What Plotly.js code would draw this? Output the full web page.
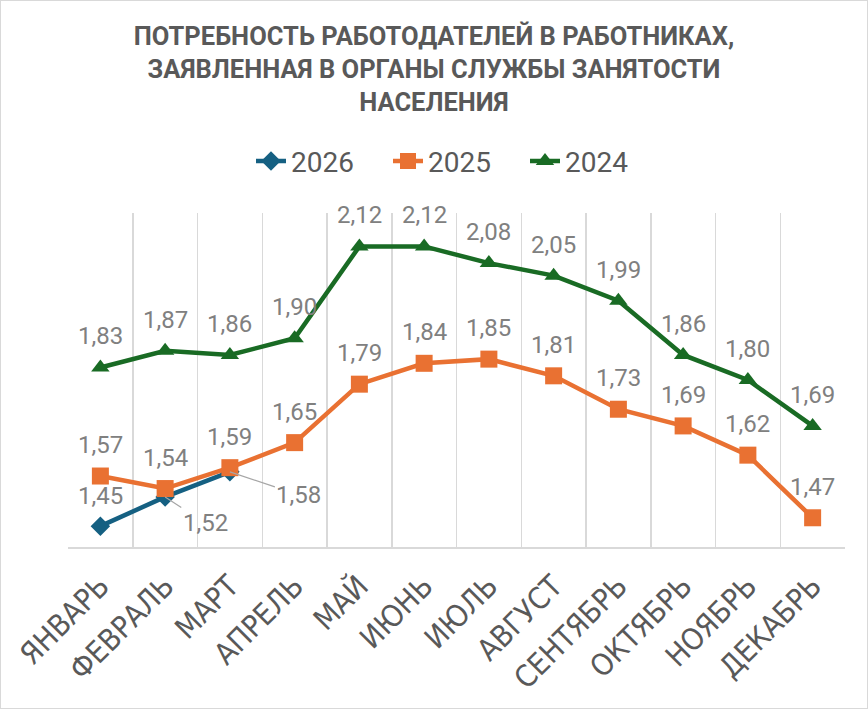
<!DOCTYPE html>
<html>
<head>
<meta charset="utf-8">
<script src="https://cdn.plot.ly/plotly-3.0.1.min.js"></script>
<style>
  body { margin: 0; background: #fff; }
  #chart { width: 868px; height: 709px; }
  #frame { position: absolute; left: 0; top: 0; width: 866px; height: 707px;
           border: 1px solid #d9d9d9; pointer-events: none; }
</style>
</head>
<body>
<div id="chart"></div>
<div id="frame"></div>
<script>
// Months (x axis categories)
const months = ['ЯНВАРЬ', 'ФЕВРАЛЬ', 'МАРТ', 'АПРЕЛЬ', 'МАЙ', 'ИЮНЬ',
                'ИЮЛЬ', 'АВГУСТ', 'СЕНТЯБРЬ', 'ОКТЯБРЬ', 'НОЯБРЬ', 'ДЕКАБРЬ'];

// Series values
const y2026 = [1.45, 1.52, 1.58];
const y2025 = [1.57, 1.54, 1.59, 1.65, 1.79, 1.84, 1.85, 1.81, 1.73, 1.69, 1.62, 1.47];
const y2024 = [1.83, 1.87, 1.86, 1.90, 2.12, 2.12, 2.08, 2.05, 1.99, 1.86, 1.80, 1.69];

const narrow = '"DejaVu Sans Condensed", Roboto, sans-serif';
const labelFont = { family: 'Roboto, Arial, sans-serif', size: 24, color: '#808080' };

function fmt(v) {
    return v.toFixed(2).replace('.', ',');
}

function makeTrace(name, values, color, symbol, size, rank) {
    return {
        x: months.slice(0, values.length),
        y: values,
        name: name,
        type: 'scatter',
        mode: 'lines+markers',
        line: { color: color, width: 4.5 },
        marker: { color: color, symbol: symbol, size: size },
        legendrank: rank,
        hoverinfo: 'x+y'
    };
}

const traces = [
    makeTrace('2026', y2026, '#156082', 'diamond', 15, 1),
    makeTrace('2025', y2025, '#E97132', 'square', 17, 2),
    makeTrace('2024', y2024, '#196B24', 'triangle-up', 16, 3)
];

// Data labels: above the points, 2026 Feb/Mar moved aside with leader lines
const annotations = [];
[y2024, y2025].forEach(function(values) {
    values.forEach(function(v, i) {
        annotations.push({
            x: months[i], y: v, text: fmt(v), showarrow: false,
            yshift: 31, font: labelFont
        });
    });
});
y2026.forEach(function(v, i) {
    if (i === 0) {
        annotations.push({
            x: months[i], y: v, text: fmt(v), showarrow: false,
            yshift: 30, font: labelFont
        });
    } else {
        annotations.push({
            x: months[i], y: v, text: fmt(v), showarrow: true,
            arrowhead: 0, arrowwidth: 1.2, arrowcolor: '#a6a6a6',
            ax: i === 1 ? 40 : 69, ay: i === 1 ? 26 : 23,
            font: labelFont
        });
    }
});

const layout = {
    width: 868,
    height: 709,
    margin: { l: 68, r: 23, t: 213, b: 162 },
    paper_bgcolor: '#ffffff',
    plot_bgcolor: '#ffffff',
    title: {
        text: 'ПОТРЕБНОСТЬ РАБОТОДАТЕЛЕЙ В РАБОТНИКАХ,<br>ЗАЯВЛЕННАЯ В ОРГАНЫ СЛУЖБЫ ЗАНЯТОСТИ<br>НАСЕЛЕНИЯ',
        font: { family: 'Roboto, Arial, sans-serif', size: 25.5, color: '#595959', weight: 'bold' },
        x: 0.5,
        xanchor: 'center',
        y: 0.937,
        yanchor: 'top'
    },
    showlegend: true,
    legend: {
        orientation: 'h',
        x: 0.5, xanchor: 'center',
        y: 1.155, yanchor: 'middle',
        entrywidth: 92,
        font: { family: 'Roboto, Arial, sans-serif', size: 28, color: '#595959' }
    },
    xaxis: {
        type: 'category',
        range: [-0.5, 11.5],
        tickson: 'boundaries',
        automargin: false,
        showgrid: true,
        gridcolor: '#d9d9d9',
        gridwidth: 1.5,
        showline: true,
        linecolor: '#d9d9d9',
        linewidth: 1.5,
        ticks: '',
        ticklabelstandoff: 8,
        tickangle: -45,
        tickfont: { family: narrow, size: 30, color: '#595959' },
        fixedrange: true
    },
    yaxis: {
        range: [1.4, 2.2],
        visible: false,
        showgrid: false,
        zeroline: false,
        fixedrange: true
    },
    annotations: annotations
};

Plotly.newPlot('chart', traces, layout, { displayModeBar: false, staticPlot: true });
</script>
</body>
</html>
